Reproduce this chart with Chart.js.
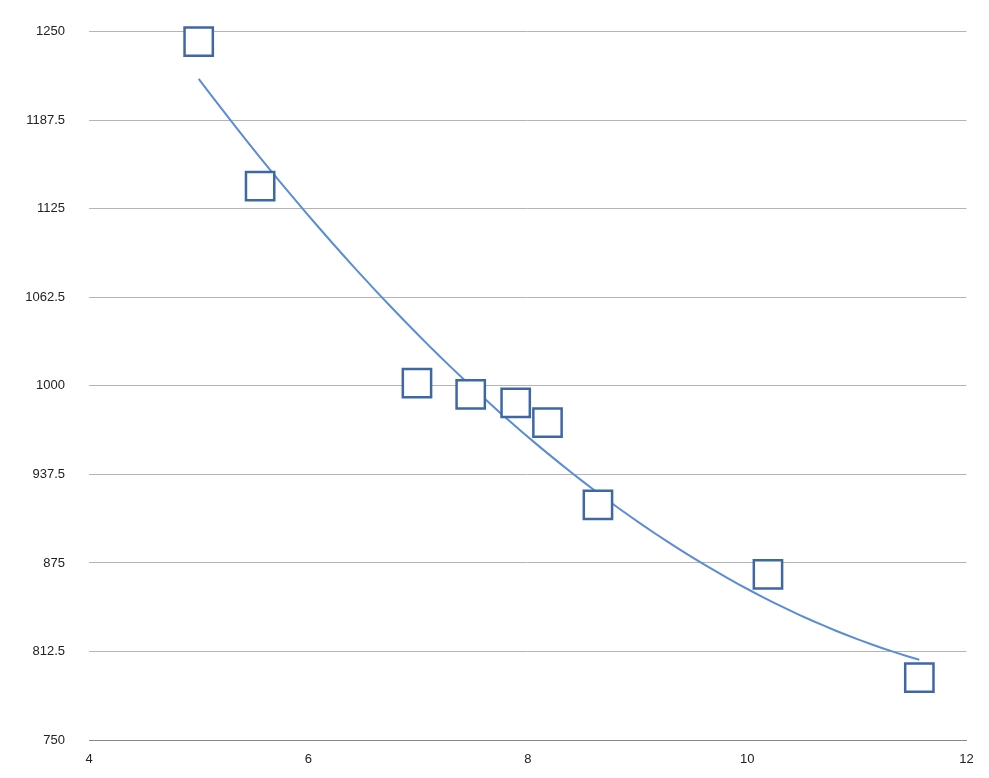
<!DOCTYPE html>
<html>
<head>
<meta charset="utf-8">
<script src="https://cdn.jsdelivr.net/npm/chart.js@4/dist/chart.umd.min.js"></script>
<style>
  html, body { margin: 0; padding: 0; background: #fff; }
  #wrap { width: 989px; height: 778px; }
</style>
</head>
<body>
<div id="wrap"><canvas id="c"></canvas></div>
<script>
const xValues = [5.0, 5.56, 6.99, 7.48, 7.89, 8.18, 8.64, 10.19, 11.57];
const yValues = [1243, 1141, 1002, 994, 988, 974, 916, 867, 794];
const xTicks = [4, 6, 8, 10, 12];
const yTicks = [750, 812.5, 875, 937.5, 1000, 1062.5, 1125, 1187.5, 1250];

// quadratic least-squares trend line through the points
function quadFit(xs, ys) {
  const n = xs.length;
  let s = [0, 0, 0, 0, 0], t = [0, 0, 0];
  for (let i = 0; i < n; i++) {
    let p = 1;
    for (let k = 0; k < 5; k++) { s[k] += p; if (k < 3) t[k] += p * ys[i]; p *= xs[i]; }
  }
  const m = [[s[0], s[1], s[2], t[0]], [s[1], s[2], s[3], t[1]], [s[2], s[3], s[4], t[2]]];
  for (let i = 0; i < 3; i++) {
    for (let j = i + 1; j < 3; j++) {
      const f = m[j][i] / m[i][i];
      for (let k = i; k < 4; k++) m[j][k] -= f * m[i][k];
    }
  }
  const c = [0, 0, 0];
  for (let i = 2; i >= 0; i--) {
    let v = m[i][3];
    for (let k = i + 1; k < 3; k++) v -= m[i][k] * c[k];
    c[i] = v / m[i][i];
  }
  return c;
}
const coef = quadFit(xValues, yValues);
const trend = [];
for (let i = 0; i <= 60; i++) {
  const x = xValues[0] + (xValues[xValues.length - 1] - xValues[0]) * i / 60;
  trend.push({ x: x, y: coef[0] + coef[1] * x + coef[2] * x * x });
}

new Chart(document.getElementById('c'), {
  type: 'scatter',
  data: {
    datasets: [
      {
        type: 'line',
        data: trend,
        borderColor: '#5a8dd6',
        borderWidth: 2,
        pointRadius: 0,
        fill: false,
        order: 2
      },
      {
        data: xValues.map((x, i) => ({ x: x, y: yValues[i] })),
        pointStyle: 'rect',
        pointRadius: 20,
        pointBorderWidth: 2.5,
        pointBorderColor: '#3f67a3',
        pointBackgroundColor: '#ffffff',
        clip: false,
        order: 1
      }
    ]
  },
  options: {
    responsive: true,
    maintainAspectRatio: false,
    animation: false,
    layout: { padding: { left: 0, right: 21, top: 5, bottom: 0 } },
    plugins: { legend: { display: false }, tooltip: { enabled: false } },
    scales: {
      x: {
        type: 'linear', min: 4, max: 12,
        afterBuildTicks: s => { s.ticks = xTicks.map(v => ({ value: v })); },
        afterFit: s => { s.height = 38; },
        grid: { display: false },
        border: { color: '#888', width: 1 },
        ticks: { color: '#222', font: { family: 'Liberation Sans', size: 13 }, padding: 4, callback: v => String(v) }
      },
      y: {
        type: 'linear', min: 750, max: 1250,
        afterBuildTicks: s => { s.ticks = yTicks.map(v => ({ value: v })); },
        afterFit: s => { s.width = 89; },
        grid: { color: '#b4b4b4', lineWidth: 1, drawTicks: false },
        border: { display: false },
        ticks: { color: '#222', font: { family: 'Liberation Sans', size: 13 }, padding: 24, callback: v => String(v) }
      }
    }
  }
});
</script>
</body>
</html>
